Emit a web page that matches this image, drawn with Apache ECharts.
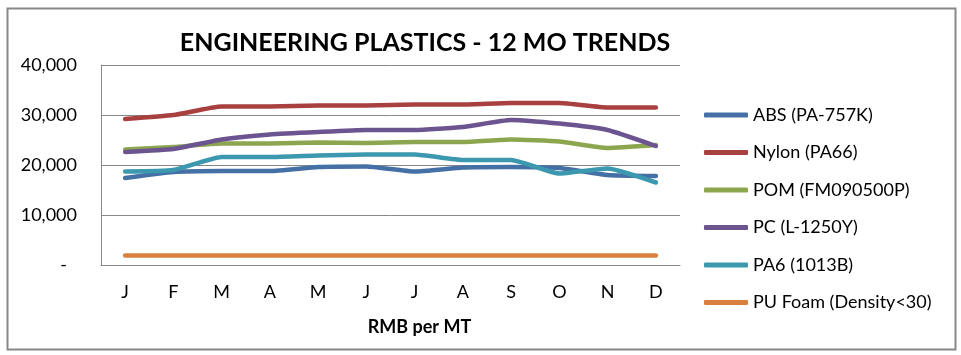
<!DOCTYPE html>
<html>
<head>
<meta charset="utf-8">
<script src="https://cdn.jsdelivr.net/npm/echarts@6/dist/echarts.min.js"></script>
<style>
html,body{margin:0;padding:0;background:#fff;}
#chart{width:961px;height:355px;}
</style>
</head>
<body>
<div id="chart"></div>
<script>
var categories = ['J','F','M','A','M','J','J','A','S','O','N','D'];
var seriesNames = ['ABS (PA-757K)','Nylon (PA66)','POM (FM090500P)','PC (L-1250Y)','PA6 (1013B)','PU Foam (Density<30)'];
var absValues   = [17400,18600,18800,18800,19600,19700,18700,19500,19600,19400,18000,17800];
var nylonValues = [29200,30000,31700,31700,31900,31900,32100,32100,32400,32400,31500,31500];
var pomValues   = [23100,23600,24300,24300,24500,24400,24600,24600,25100,24700,23400,24000];
var pcValues    = [22600,23200,25100,26100,26600,27000,27000,27600,29000,28300,27000,23800];
var pa6Values   = [18700,19000,21600,21600,21900,22100,22100,21000,21000,18300,19300,16500];
var puValues    = [1900,1900,1900,1900,1900,1900,1900,1900,1900,1900,1900,1900];
var yTicks = [0,10000,20000,30000,40000];
var colors = ['#4470A5','#A8403F','#8BA64E','#6C5490','#3C98AE','#D9803F'];

var allValues = [absValues,nylonValues,pomValues,pcValues,pa6Values,puValues];
var FONT = 'Lato, "Open Sans", sans-serif';

var chart = echarts.init(document.getElementById('chart'), null, {renderer:'canvas'});
chart.setOption({
  animation:false,
  backgroundColor:'#ffffff',
  color:colors,
  title:{
    text:'ENGINEERING PLASTICS - 12 MO TRENDS',
    left:420, top:25, textAlign:'center',
    textStyle:{fontFamily:FONT,fontSize:25,fontWeight:'bold',color:'#000'}
  },
  legend:{
    orient:'vertical', left:699, top:100,
    itemWidth:44, itemHeight:5, itemGap:17.5,
    icon:'roundRect',
    data:seriesNames,
    textStyle:{fontFamily:FONT,fontSize:18,color:'#000',lineHeight:20}
  },
  grid:{left:101, top:65, right:281, bottom:90, containLabel:false},
  xAxis:{
    type:'category', data:categories, boundaryGap:true,
    axisLine:{show:true,lineStyle:{color:'#888',width:1}},
    axisTick:{show:false},
    axisLabel:{margin:18,fontFamily:FONT,fontSize:18,color:'#000'},
    name:'RMB per MT', nameLocation:'middle', nameGap:53,
    nameTextStyle:{fontFamily:FONT,fontSize:18,fontWeight:'bold',color:'#000',padding:[0,0,0,58]}
  },
  yAxis:{
    type:'value', min:yTicks[0], max:yTicks[yTicks.length-1], interval:yTicks[1]-yTicks[0],
    axisLine:{show:true,lineStyle:{color:'#888',width:1}},
    axisTick:{show:false},
    splitLine:{show:true,lineStyle:{color:'#888',width:1}},
    axisLabel:{
      margin:24,fontFamily:FONT,fontSize:18,color:'#000',
      formatter:function(v){ return v===0 ? '{d|-}' : v.toLocaleString('en-US'); },
      rich:{d:{fontFamily:FONT,fontSize:18,color:'#000',padding:[0,10,0,0]}}
    }
  },
  graphic:[{
    type:'rect', left:5, top:6, silent:true,
    shape:{width:948,height:341},
    style:{fill:'none',stroke:'#888',lineWidth:2}
  }],
  series:seriesNames.map(function(n,i){
    return {
      name:n, type:'line', data:allValues[i],
      showSymbol:false, symbol:'none', smooth:0.15,
      lineStyle:{width:4.5,color:colors[i],cap:'round',join:'round'},
      itemStyle:{color:colors[i]}
    };
  })
});
</script>
</body>
</html>
